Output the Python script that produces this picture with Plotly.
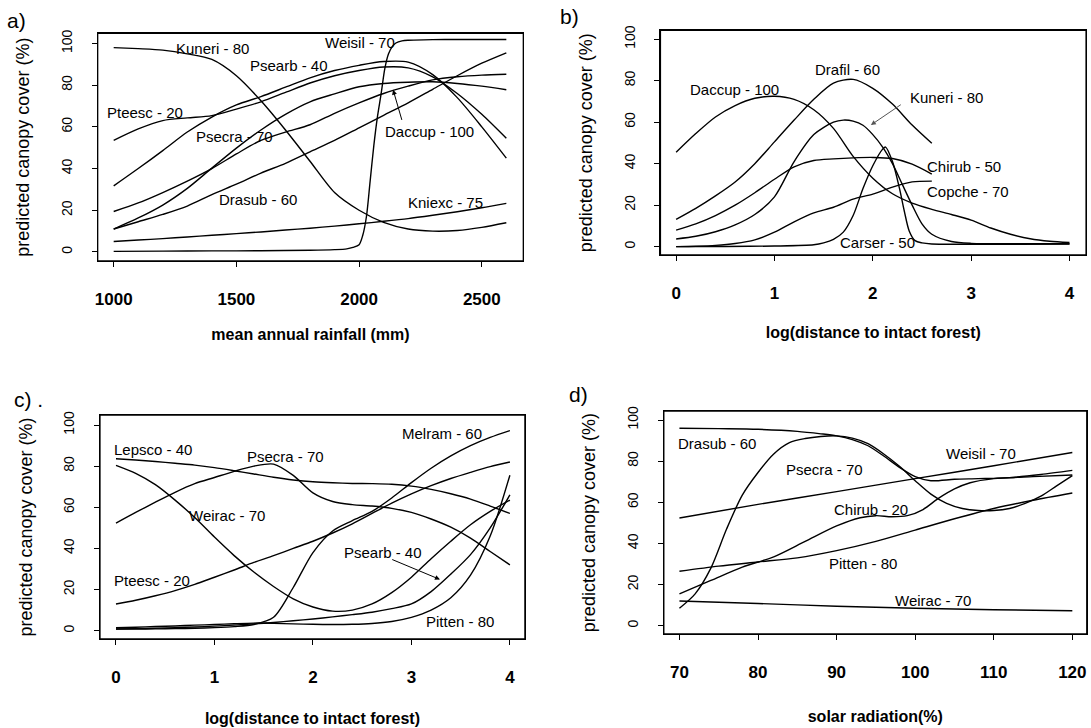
import plotly.graph_objects as go

# ---------------- data: panel a (mean annual rainfall) ----------------
A_X = [1000, 1100, 1200, 1300, 1400, 1500, 1600, 1700, 1800, 1900, 2000, 2100, 2200, 2300, 2400, 2500, 2600]
A_KUNERI = [98, 97.5, 96.8, 95, 92.3, 84.5, 72.5, 58.5, 43.5, 28.5, 20, 14.2, 11, 10, 10.3, 11.8, 14]
A_PTEESC = [53.5, 59, 63, 64.3, 65.4, 68.5, 72, 76.5, 81, 84.5, 87, 88.7, 88.3, 84, 76, 66, 54.5]
A_PSEARB = [31.7, 40, 48.6, 57.5, 64.7, 70.5, 74.5, 79, 83.5, 87, 89.5, 91.3, 91, 85, 74, 60, 45]
A_PSECRA = [11, 16.3, 22.5, 30.5, 40.2, 49.8, 58.5, 66, 72, 75.8, 79.2, 80.8, 81.4, 81.6, 80.8, 79.5, 77.8]
A_DACCUP = [19.4, 23.5, 28.5, 34, 40, 47, 53.5, 57.5, 61, 66.5, 71.5, 76, 79.5, 82.5, 84, 84.8, 85.2]
A_DRASUB = [11, 14.5, 18, 22, 27.5, 32.5, 37.8, 42.5, 48, 53.5, 59.5, 65.5, 71.5, 78, 84.5, 90.5, 95.5]
A_KNIEXC = [5, 5.7, 6.4, 7.2, 8, 8.8, 9.6, 10.5, 11.4, 12.4, 13.5, 14.7, 16, 17.6, 19.3, 21.2, 23.3]
A_WEISIL_X = [1000, 1200, 1400, 1600, 1800, 1900, 1950, 1975, 2000, 2015, 2030, 2045, 2060, 2075,
              2090, 2105, 2120, 2135, 2150, 2175, 2200, 2300, 2400, 2500, 2600]
A_WEISIL = [0.3, 0.4, 0.5, 0.6, 0.8, 1.1, 1.5, 2.2, 3.5, 8, 17, 34, 51, 65,
            76, 88, 95, 98.5, 100.2, 101.2, 101.5, 101.8, 101.9, 101.9, 101.9]

# ---------------- data: panel b (log distance to intact forest) ----------------
B_X_FULL = [0, 0.2, 0.4, 0.6, 0.8, 1.0, 1.2, 1.4, 1.6, 1.8, 2.0, 2.2, 2.4, 2.6, 2.8, 3.0, 3.2, 3.4, 3.6, 3.8, 4.0]
B_DACCUP = [45.5, 54.5, 62.5, 68, 71.5, 72.5, 71, 66, 57, 43.5, 33, 25.5, 21, 18, 15.5, 12.8, 9, 6, 3.8, 2.6, 2]
B_X_SHORT = [0, 0.2, 0.4, 0.6, 0.8, 1.0, 1.2, 1.4, 1.6, 1.8, 2.0, 2.2, 2.4, 2.6]
B_DRAFIL = [13.2, 18.5, 24.5, 31.2, 40, 50.5, 61, 71, 78.8, 80.6, 76.3, 68.7, 58.6, 49.8]
B_CHIRUB = [8, 11, 15, 20, 26, 32.5, 38.5, 41.5, 42.3, 42.8, 43, 42.5, 39.8, 35]
B_COPCHE = [0, 0.2, 0.6, 1.5, 3.3, 7, 12, 16.3, 19, 22.9, 25.3, 28.7, 31.2, 31.6]
B_KUNERI_X = [0, 0.2, 0.4, 0.6, 0.8, 1.0, 1.2, 1.4, 1.6, 1.7, 1.8, 1.9, 2.0, 2.1, 2.2, 2.3, 2.4, 2.5,
              2.6, 2.8, 3.0, 3.5, 4.0]
B_KUNERI = [3.7, 5, 7.2, 10.5, 15.5, 24, 41, 54, 60, 61, 60.5, 58.5, 54, 48, 40, 30, 20, 11,
            6, 2.5, 1.6, 1.4, 1.4]
B_CARSER_X = [0, 0.5, 1.0, 1.4, 1.5, 1.6, 1.7, 1.8, 1.9, 2.0, 2.1, 2.13, 2.2, 2.27, 2.32, 2.37,
              2.43, 2.5, 2.6, 3.0, 3.5, 4.0]
B_CARSER = [0, 0.1, 0.3, 0.9, 1.8, 3.5, 7, 15, 28, 39, 47, 48, 41, 28.3, 17.2, 7.6,
            2.9, 1.8, 1.3, 1.2, 1.2, 1.3]

# ---------------- data: panel c (log distance to intact forest) ----------------
C_X = [0, 0.2, 0.4, 0.6, 0.8, 1.0, 1.2, 1.4, 1.6, 1.8, 2.0, 2.2, 2.4, 2.6, 2.8, 3.0, 3.2, 3.4, 3.6, 3.8, 4.0]
C_LEPSCO = [83.6, 83, 82.3, 81.4, 80.5, 79.3, 77.8, 76.2, 74.6, 73.3, 72.4, 71.9, 71.6, 71.5, 71.2, 70.3,
            68.7, 66.6, 64, 60.6, 57]
C_WEIRAC = [80.4, 76.5, 71, 63.5, 55, 45.5, 36.5, 28.5, 21.5, 15.5, 11.5, 9.5, 10, 13, 18.5, 26, 35, 43.5,
            51.5, 58, 63.5]
C_PSECRA = [52.3, 57.5, 62.5, 67.3, 71.5, 74.5, 77.5, 80, 81, 75.5, 67, 62.8, 61.3, 60.6, 59.5, 57.5, 54.3,
            50.3, 45, 38.5, 32]
C_PTEESC = [13, 14.8, 17, 19.5, 22.5, 26, 29.5, 33.2, 36.5, 40, 43.5, 47.5, 52, 57, 62, 66.5, 70.5, 74, 77,
            79.8, 82]
C_MELRAM = [0.8, 0.8, 0.9, 1, 1.2, 1.5, 2, 3, 6.5, 21, 38, 48.5, 53.5, 58, 64.5, 72, 79, 85, 90, 94, 97.3]
C_PSEARB = [0.8, 1, 1.2, 1.5, 1.8, 2.2, 2.7, 3.3, 4, 4.8, 5.7, 6.7, 7.8, 9, 10.7, 13, 19, 27.5, 37, 50, 66]
C_PITTEN = [1.5, 1.7, 2, 2.3, 2.7, 3, 3.4, 3.7, 3.6, 3.3, 3.1, 3, 3.1, 3.5, 4.5, 6.5, 10, 16, 27, 46, 75.6]

# ---------------- data: panel d (solar radiation) ----------------
D_DRASUB_X = [70, 75, 80, 85, 88, 90, 92, 94, 96, 98, 100, 102, 105, 108, 112, 116, 120]
D_DRASUB = [96, 95.8, 95.5, 94.5, 93.3, 92.3, 90.5, 87.5, 82.5, 77, 72.5, 70.5, 71.2, 71.5, 72, 73.5, 75.5]
D_PSECRA_X = [70, 72, 74, 76, 78, 80, 82, 84, 86, 88, 90, 92, 94, 96, 98, 100, 102, 104, 106, 108, 110,
              112, 114, 116, 118, 120]
D_PSECRA = [8.5, 15.5, 28, 47, 63.5, 74.5, 83.5, 89, 91, 92, 92.3, 91.2, 88.5, 83.5, 77.5, 70.5, 64,
            59.5, 57, 56, 56, 57, 59.5, 63, 68, 73]
D_CHIRUB_X = [70, 74, 78, 82, 86, 90, 93, 95, 97, 99, 101, 103, 105, 107, 110, 115, 120]
D_CHIRUB = [15.5, 22, 28.5, 33.5, 41, 48.5, 52.5, 53.5, 53, 53.5, 56.5, 62, 66.5, 69.5, 71.5, 72.5, 73.3]
D_PITTEN_X = [70, 75, 80, 85, 90, 95, 100, 105, 110, 115, 120]
D_PITTEN = [26.5, 29, 31, 33, 36.5, 41, 46.5, 52, 57, 61, 64.5]
D_LIN_X = [70, 80, 90, 100, 110, 120]
D_WEISIL = [52.4, 59, 65.2, 71.5, 77.8, 84.2]
D_WEIRAC = [12, 10.8, 9.5, 8.5, 7.8, 7.3]

# ---------------- axis ticks and labels ----------------
Y_TICKS = [0, 20, 40, 60, 80, 100]
A_TICKS = [1000, 1500, 2000, 2500]
BC_TICKS = [0, 1, 2, 3, 4]
D_TICKS = [70, 80, 90, 100, 110, 120]

# species labels: (text, x, y)
A_LABELS = [("Kuneri - 80", 1403, 97.5), ("Psearb - 40", 1716, 89.2), ("Weisil - 70", 2003, 100.3),
            ("Pteesc - 20", 1127, 67), ("Psecra - 70", 1493, 55.6), ("Drasub - 60", 1588, 25),
            ("Daccup - 100", 2288, 57.8), ("Kniexc - 75", 2351, 23.8)]
B_LABELS = [("Daccup - 100", 0.59, 75.6), ("Drafil - 60", 1.74, 85.6), ("Kuneri - 80", 2.75, 72.1),
            ("Chirub - 50", 2.93, 38.7), ("Copche - 70", 2.97, 26.4), ("Carser - 50", 2.05, 1.9)]
C_LABELS = [("Lepsco - 40", 0.376, 87.9), ("Psecra - 70", 1.72, 84.9), ("Melram - 60", 3.31, 96),
            ("Weirac - 70", 1.13, 56), ("Pteesc - 20", 0.37, 24.6), ("Psearb - 40", 2.71, 37.8),
            ("Pitten - 80", 3.49, 4.5)]
D_LABELS = [("Drasub - 60", 74.8, 88.4), ("Psecra - 70", 88.4, 75.8), ("Weisil - 70", 108.4, 83.9),
            ("Chirub - 20", 94.4, 56.5), ("Pitten - 80", 93.3, 30.3), ("Weirac - 70", 102.3, 12.1)]

W, H = 1091, 728
FONT = "Arial, Liberation Sans, sans-serif"

fig = go.Figure()

panels = [
    ("x", "y", [(A_X, A_KUNERI), (A_X, A_PTEESC), (A_X, A_PSEARB), (A_X, A_PSECRA), (A_X, A_DACCUP),
                (A_X, A_DRASUB), (A_X, A_KNIEXC), (A_WEISIL_X, A_WEISIL)]),
    ("x2", "y2", [(B_X_FULL, B_DACCUP), (B_X_SHORT, B_DRAFIL), (B_X_SHORT, B_CHIRUB), (B_X_SHORT, B_COPCHE),
                  (B_KUNERI_X, B_KUNERI), (B_CARSER_X, B_CARSER)]),
    ("x3", "y3", [(C_X, C_LEPSCO), (C_X, C_WEIRAC), (C_X, C_PSECRA), (C_X, C_PTEESC), (C_X, C_MELRAM),
                  (C_X, C_PSEARB), (C_X, C_PITTEN)]),
    ("x4", "y4", [(D_DRASUB_X, D_DRASUB), (D_PSECRA_X, D_PSECRA), (D_CHIRUB_X, D_CHIRUB),
                  (D_PITTEN_X, D_PITTEN), (D_LIN_X, D_WEISIL), (D_LIN_X, D_WEIRAC)]),
]
for xa, ya, series in panels:
    for xs, ys in series:
        fig.add_trace(go.Scatter(x=xs, y=ys, mode="lines", xaxis=xa, yaxis=ya, showlegend=False,
                                 line=dict(color="black", width=1.4, shape="spline", smoothing=0.8),
                                 hoverinfo="skip"))


def dx(l, r):
    return [l / W, r / W]


def dy(top, bottom):
    return [1 - bottom / H, 1 - top / H]


common = dict(showline=True, mirror=True, linecolor="black", linewidth=1.2, ticks="outside",
              ticklen=5, tickwidth=1.2, tickcolor="black", showgrid=False, zeroline=False)


def xax(domain, rng, ticks, title, anchor, tstand):
    return dict(common, domain=domain, range=rng, tickvals=ticks, anchor=anchor,
                tickfont=dict(family=FONT, size=17, color="black", weight="bold"),
                ticklabelstandoff=18,
                title=dict(text=title, font=dict(family=FONT, size=16, color="black", weight="bold"),
                           standoff=tstand))


def yax(domain, rng, anchor):
    return dict(common, domain=domain, range=rng, tickvals=Y_TICKS, anchor=anchor, tickangle=-90,
                tickfont=dict(family=FONT, size=14, color="black"), ticklabelstandoff=14,
                title=dict(text="predicted canopy cover (%)", font=dict(family=FONT, size=18, color="black"),
                           standoff=24))


fig.update_layout(
    width=W, height=H, autosize=False,
    margin=dict(l=0, r=0, t=0, b=0),
    paper_bgcolor="white", plot_bgcolor="white",
    font=dict(family=FONT, color="black"),
    xaxis=xax(dx(95, 521.7), [935, 2669], A_TICKS, "mean annual rainfall (mm)", "y", 20),
    yaxis=yax(dy(28.6, 257.7), [-4.3, 104.8], "x"),
    xaxis2=xax(dx(659.3, 1086), [-0.159, 4.168], BC_TICKS, "log(distance to intact forest)", "y2", 24),
    yaxis2=yax(dy(25.6, 251.7), [-4.0, 104.2], "x2"),
    xaxis3=xax(dx(97.3, 523.3), [-0.162, 4.152], BC_TICKS, "log(distance to intact forest)", "y3", 26),
    yaxis3=yax(dy(413, 638.3), [-4.0, 104.8], "x3"),
    xaxis4=xax(dx(662.7, 1086.7), [68.02, 121.83], D_TICKS, "solar radiation(%)", "y4", 29),
    yaxis4=yax(dy(409, 633.3), [-4.0, 104.3], "x4"),
)

# plot frames (box around each panel)
shapes = []
for xr, yr in [("x", "y"), ("x2", "y2"), ("x3", "y3"), ("x4", "y4")]:
    shapes.append(dict(type="rect", xref=xr + " domain", yref=yr + " domain", x0=0, x1=1, y0=0, y1=1,
                       line=dict(color="black", width=1.2), fillcolor="rgba(0,0,0,0)", layer="above"))

annotations = []
for (labels, xr, yr) in [(A_LABELS, "x", "y"), (B_LABELS, "x2", "y2"), (C_LABELS, "x3", "y3"),
                         (D_LABELS, "x4", "y4")]:
    for text, lx, ly in labels:
        annotations.append(dict(text=text, x=lx, y=ly, xref=xr, yref=yr, showarrow=False,
                                font=dict(family=FONT, size=15, color="black"),
                                xanchor="center", yanchor="middle"))

# arrows (head, tail)
ARROWS = [("x", "y", 2138.5, 77.8, 2176, 62.6, "black"),
          ("x2", "y2", 1.98, 58.6, 2.30, 68.9, "#555555"),
          ("x3", "y3", 3.29, 24.9, 2.79, 34.9, "black")]
for xr, yr, hx, hy, tx, ty, col in ARROWS:
    annotations.append(dict(text="", x=hx, y=hy, ax=tx, ay=ty, xref=xr, yref=yr, axref=xr, ayref=yr,
                            showarrow=True, arrowhead=2, arrowsize=1, arrowwidth=1, arrowcolor=col))

PANEL_TAGS = [("a)", 14, 16), ("b)", 568, 12), ("c) .", 26, 397), ("d)", 577, 392)]
for text, px, py in PANEL_TAGS:
    annotations.append(dict(text=text, x=px / W, y=1 - py / H, xref="paper", yref="paper",
                            showarrow=False, font=dict(family=FONT, size=21, color="black"),
                            xanchor="center", yanchor="middle"))

fig.update_layout(annotations=annotations, shapes=shapes)
fig.write_html("out.html", config={"displayModeBar": False},
               post_script="document.body.style.margin='0px';")
